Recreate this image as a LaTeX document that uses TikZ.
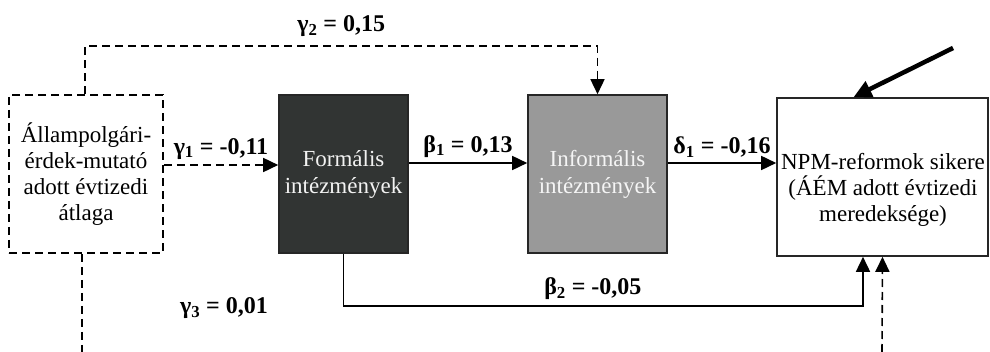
\documentclass[tikz,border=0pt]{standalone}
\usepackage{fontspec}
\setmainfont{Liberation Serif}
\usepackage{xcolor}
\usepackage{tikz}
\usetikzlibrary{arrows.meta}
\definecolor{formal}{HTML}{313433}
\definecolor{informal}{HTML}{999999}
\tikzset{
  box/.style={draw=black!85, line width=1.6pt, minimum height=158pt, inner sep=1pt, align=center, font=\fontsize{23}{27}\selectfont},
  coef/.style={font=\fontsize{24}{28}\selectfont\bfseries, inner sep=2pt},
  link/.style={black, line width=1.6pt, -{Triangle[length=15pt,width=14pt]}},
  dlink/.style={link, dash pattern=on 8pt off 5pt},
  dline/.style={black, line width=1.6pt, dash pattern=on 8pt off 5pt},
}

\begin{document}
\begin{tikzpicture} [x=1pt, y=-1pt]
\useasboundingbox (0,0) rectangle (990,352);
\node[box, dash pattern=on 8pt off 5pt, draw=black, minimum width=154pt, font=\fontsize{23}{26}\selectfont] (allam) at (86,174) {Állampolgári-\\érdek-mutató\\adott évtizedi\\átlaga};
\node[box, fill=formal, text=white!95!black, minimum width=129pt] (form) at (343.5,174) {Formális\\intézmények};
\node[box, fill=informal, text=white!96!black, minimum width=139pt] (inf) at (597.5,174) {Informális\\intézmények};
\node[box, minimum width=211pt] (npm) at (882.5,177) {};
\node[align=center, inner sep=0pt, font=\fontsize{23}{26}\selectfont] (npmtext) at (883,190) {NPM-reformok sikere\\(ÁÉM adott évtizedi\\meredeksége)};
\coordinate (gin) at (82,352);
\coordinate (gout) at (882,352);
\coordinate (ext) at (953,48);
\draw[dlink] ([yshift=9pt]allam.east) -- ([yshift=9pt]allam.east -| form.west) node[coef, midway, above=3pt] (g1) {γ\textsubscript{1} = -0,11};
\draw[link] ([yshift=11pt]form.east) -- ([yshift=11pt]form.east -| inf.west) node[coef, midway, above=3pt] (b1) {β\textsubscript{1} = 0,13};
\draw[link] ([yshift=11pt]inf.east) -- ([yshift=11pt]inf.east -| npm.west) node[coef, midway, above=3pt] (d1) {δ\textsubscript{1} = -0,16};
\draw[dlink] ([xshift=-1pt]allam.north) -- ++(0,-48) -| node[coef, pos=.25, above=7pt] (g2) {γ\textsubscript{2} = 0,15} (inf.north);
\draw[link] (form.south) -- ++(0,52) -| node[coef, pos=.24, above=3pt] (b2) {β\textsubscript{2} = -0,05} ([xshift=-19.5pt]npm.south);
\draw[dline] ([xshift=-4pt]allam.south) -- (gin);
\node[coef] (g3) at (224,308) {γ\textsubscript{3} = 0,01};
\draw[dlink] (gout) -- (npm.south);
\draw[black, line width=4.5pt, -{Triangle[length=18pt,width=17pt]}] (ext) -- ([xshift=-29pt]npm.north);
\end{tikzpicture}
\end{document}
